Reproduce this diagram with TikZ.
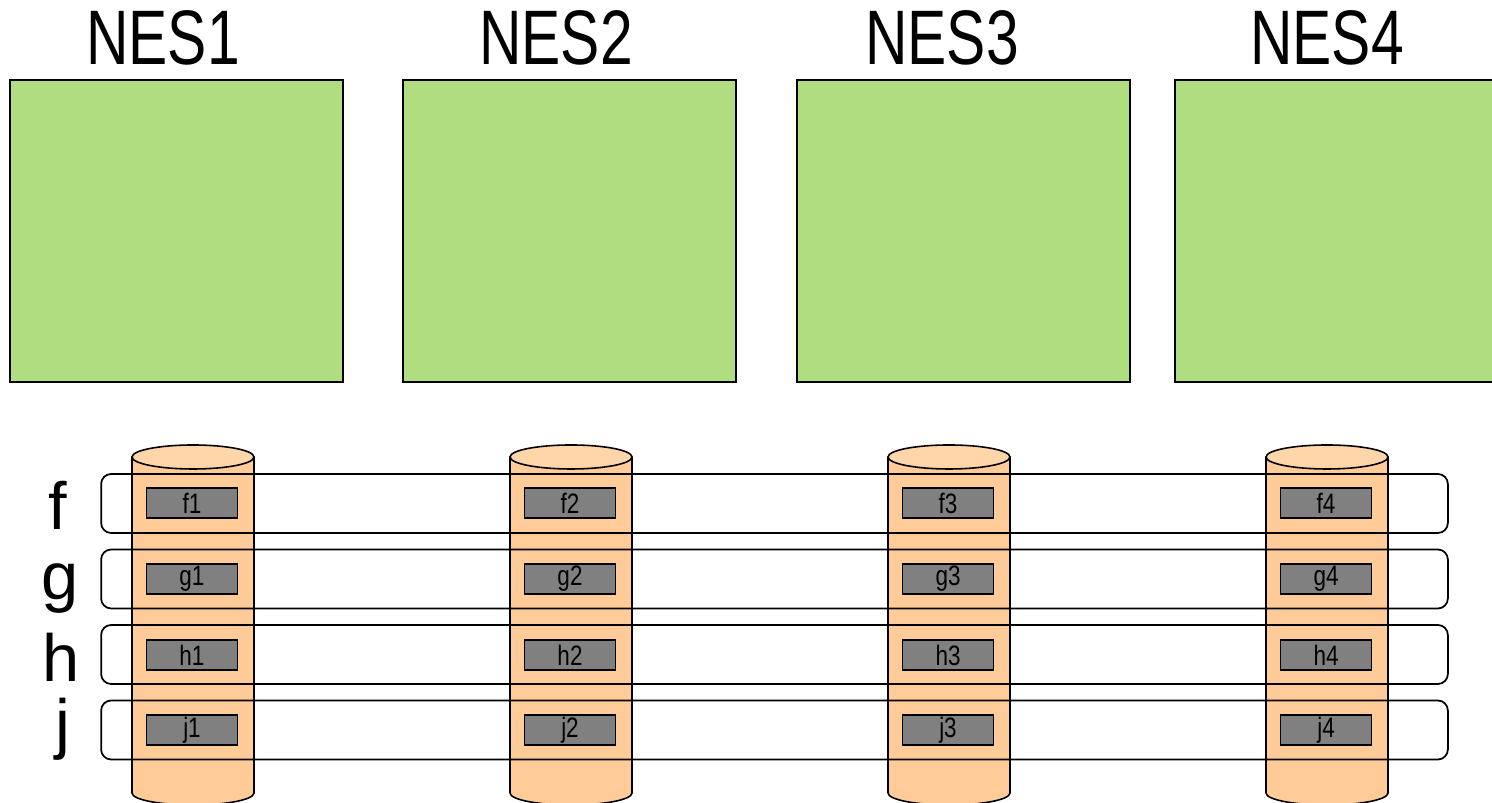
\documentclass[tikz,border=0pt]{standalone}
\usepackage{fontspec}
\setmainfont{Liberation Sans}
\usetikzlibrary{positioning}

\definecolor{nesgreen}{HTML}{B0DD80}
\definecolor{cylbody}{HTML}{FFCC99}
\definecolor{cyltop}{HTML}{FFD6AA}
\definecolor{cellgrey}{HTML}{808080}

\begin{document}
\begin{tikzpicture}[
    x=0.02cm, y=0.02cm,
    line width=0.9pt,
    nesbox/.style={rectangle, draw=black, fill=nesgreen,
                   minimum width=6.66cm, minimum height=6.04cm, inner sep=0pt},
    neslabel/.style={anchor=base, font=\fontsize{44}{48}\selectfont, inner sep=0pt},
    rowband/.style={rectangle, rounded corners=0.2cm, draw=black, line width=1pt,
                    minimum width=26.94cm, minimum height=1.18cm, inner sep=0pt},
    cellbox/.style={rectangle, draw=black, line width=1pt, fill=cellgrey,
                    minimum width=1.82cm, minimum height=0.6cm, inner sep=0pt,
                    font=\fontsize{16}{18}\selectfont},
    rowlabel/.style={anchor=base, font=\fontsize{38}{42}\selectfont, inner sep=0pt}
  ]
    \clip (0,0) rectangle (1492,803);

    % NES boxes
    \node[nesbox] (nes1) at (176.5,572) {};
    \node[nesbox] (nes2) at (569.5,572) {};
    \node[nesbox] (nes3) at (963.5,572) {};
    \node[nesbox] (nes4) at (1341.5,572) {};

    % NES titles
    \node[neslabel] (t1) at (163,738) {\scalebox{0.76}[1]{NES1}};
    \node[neslabel] (t2) at (556,738) {\scalebox{0.76}[1]{NES2}};
    \node[neslabel] (t3) at (942,738) {\scalebox{0.76}[1]{NES3}};
    \node[neslabel] (t4) at (1327,738) {\scalebox{0.76}[1]{NES4}};

    % cylinders
    \foreach \cx in {193,571,949,1327} {
      \fill[cylbody] (\cx-61,346) rectangle (\cx+61,10);
      \fill[cylbody] (\cx,10) ellipse [x radius=61, y radius=12];
      \draw (\cx-61,346) -- (\cx-61,10)
            arc [start angle=180, end angle=360, x radius=61, y radius=12]
            -- (\cx+61,346);
      \filldraw[fill=cyltop] (\cx,346) ellipse [x radius=61, y radius=12];
    }

    % row bands
    \node[rowband] (rowf) at (774.5,299.5) {};
    \node[rowband] (rowg) at (774.5,224) {};
    \node[rowband] (rowh) at (774.5,148.5) {};
    \node[rowband] (rowj) at (774.5,73) {};

    % row labels
    \node[rowlabel] (lf) at (58,273) {f};
    \node[rowlabel] (lg) at (60,203) {g};
    \node[rowlabel] (lh) at (61,121) {h};
    \node[rowlabel] (lj) at (63,56) {j};

    % cells
    \foreach \cx/\n in {192/1,570/2,948/3,1326/4} {
      \node[cellbox] (f\n) at (\cx,300) {\scalebox{0.8}[1]{f\n}};
      \node[cellbox] (g\n) at (\cx,224) {\scalebox{0.8}[1]{g\n}};
      \node[cellbox] (h\n) at (\cx,148) {\scalebox{0.8}[1]{h\n}};
      \node[cellbox] (j\n) at (\cx,73) {\scalebox{0.8}[1]{j\n}};
    }
  \end{tikzpicture}
\end{document}
